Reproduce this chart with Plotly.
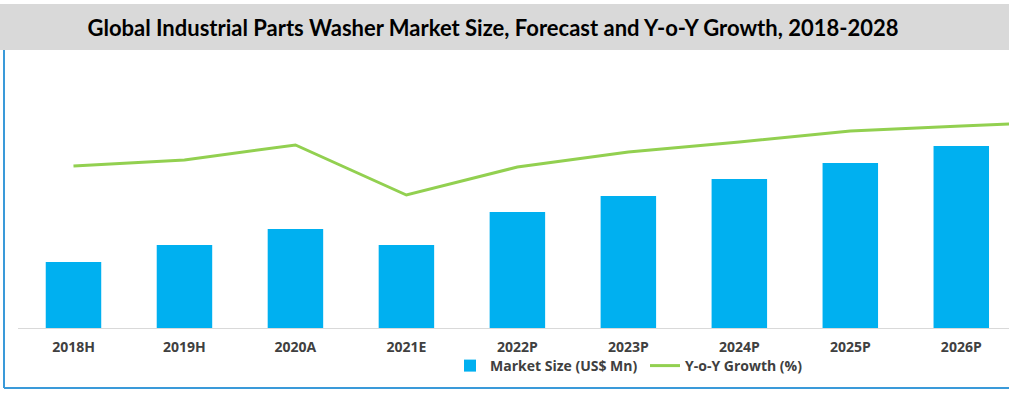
import plotly.graph_objects as go

categories = ["2018H", "2019H", "2020A", "2021E", "2022P", "2023P", "2024P", "2025P", "2026P", "2027P"]
market_size = [66, 83, 99, 83, 116, 132, 149, 165, 182, None]
yoy_growth = [162, 168, 183, 133, 161, 176, 186, 197, 202, 206.5]

title_text = "Global Industrial Parts Washer Market Size, Forecast and Y-o-Y Growth, 2018-2028"

fig = go.Figure()
fig.add_trace(go.Bar(
    x=categories, y=market_size, name="Market Size (US$ Mn)",
    marker=dict(color="#00B0F0", line=dict(width=0)), width=0.5,
))
fig.add_trace(go.Scatter(
    x=categories, y=yoy_growth, name="Y-o-Y Growth (%)", mode="lines",
    line=dict(color="#92D050", width=3), yaxis="y2",
))

fig.update_layout(
    width=1009, height=393,
    margin=dict(l=18, r=0, t=50, b=65),
    paper_bgcolor="white", plot_bgcolor="white",
    font=dict(family="Open Sans", color="#404040"),
    title=dict(text="<b>" + title_text + "</b>", x=493 / 1009, xanchor="center",
               y=1 - 28 / 393, yanchor="middle", xref="container", yref="container",
               font=dict(family="Lato", size=22, color="#000000")),
    xaxis=dict(range=[-0.5, 8.43], showgrid=False, showline=True, linecolor="#D9D9D9",
               linewidth=1, ticks="", tickfont=dict(size=14, color="#404040", family="Open Sans"),
               ticklabelstandoff=6, tickprefix="<b>", ticksuffix="</b>", fixedrange=True),
    yaxis=dict(range=[0, 278], visible=False, showgrid=False),
    yaxis2=dict(range=[0, 278], visible=False, showgrid=False, overlaying="y"),
    showlegend=True,
    legend=dict(orientation="h", x=(450 - 18) / 991, xanchor="left",
                y=(328 - 366) / 278, yanchor="middle",
                font=dict(size=14, color="#404040", family="Open Sans", weight="bold"),
                entrywidth=150, entrywidthmode="pixels",
                bgcolor="rgba(0,0,0,0)"),
)

# title band
fig.add_shape(type="rect", xref="paper", yref="paper",
              x0=-18 / 991, x1=1.0, y0=1.0, y1=(328 - 4) / 278,
              fillcolor="#D9D9D9", line=dict(width=0), layer="below")
# blue frame
fig.add_shape(type="line", xref="paper", yref="paper",
              x0=(4 - 18) / 991, x1=(4 - 18) / 991, y0=(328 - 50) / 278, y1=(328 - 388) / 278,
              line=dict(color="#3A9AD9", width=2))
fig.add_shape(type="line", xref="paper", yref="paper",
              x0=(4 - 18) / 991, x1=1.0, y0=(328 - 388) / 278, y1=(328 - 388) / 278,
              line=dict(color="#3A9AD9", width=2))

fig.write_html("out.html", config={"displayModeBar": False},
               post_script="document.body.style.margin='0';")
